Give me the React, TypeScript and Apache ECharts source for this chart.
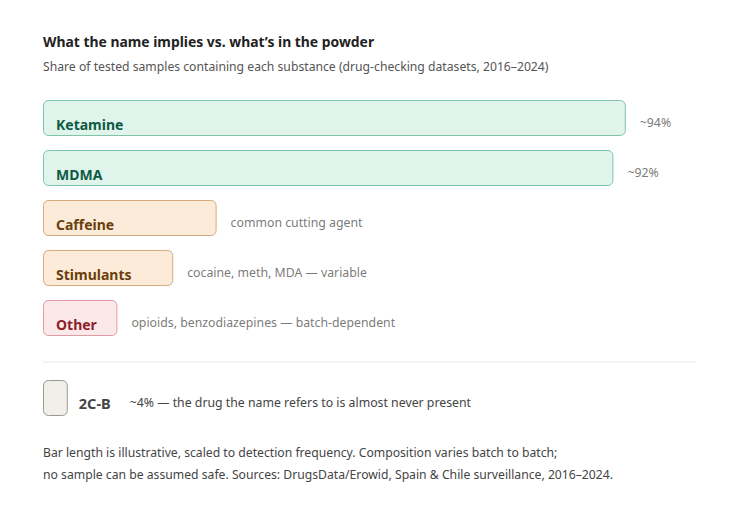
import React, { useEffect, useRef } from 'react';
import * as echarts from 'echarts';

// Substances found in samples sold under a given name
const categories = ['Ketamine', 'MDMA', 'Caffeine', 'Stimulants', 'Other'];
const shares = [94, 92, 28, 21, 12];
const notes = [
	'~94%',
	'~92%',
	'common cutting agent',
	'cocaine, meth, MDA — variable',
	'opioids, benzodiazepines — batch-dependent'
];

// The drug the name actually refers to
const absentName = '2C-B';
const absentShare = 4;
const absentNote = '~4% — the drug the name refers to is almost never present';

const titleText = 'What the name implies vs. what\u2019s in the powder';
const subtitleText = 'Share of tested samples containing each substance (drug-checking datasets, 2016–2024)';
const footerLines = [
	'Bar length is illustrative, scaled to detection frequency. Composition varies batch to batch;',
	'no sample can be assumed safe. Sources: DrugsData/Erowid, Spain & Chile surveillance, 2016–2024.'
];

// Colours per row: fill, border, label
const fills = ['#e0f4ec', '#e0f4ec', '#fbebd8', '#fbebd8', '#fbe9ea'];
const borders = ['#80c4a8', '#80c4a8', '#d5ab7b', '#d5ab7b', '#e09aa4'];
const labelColors = ['#0f5a43', '#0f5a43', '#6b3e0e', '#6b3e0e', '#8e1f2c'];

const FONT = '"Noto Sans", "Open Sans", sans-serif';

const App: React.FC = () => {
	const chartRef = useRef<HTMLDivElement>(null);

	useEffect(() => {
		if (!chartRef.current) return;
		const chart = echarts.init(chartRef.current, undefined, { renderer: 'svg' });

		const option: echarts.EChartsOption = {
			animation: false,
			backgroundColor: '#ffffff',
			textStyle: { fontFamily: FONT },
			title: [
				{
					text: titleText,
					subtext: subtitleText,
					left: 43,
					top: 34,
					padding: 0,
					itemGap: 12,
					textStyle: { fontFamily: FONT, fontSize: 13.9, fontWeight: 'bold', color: '#222222' },
					subtextStyle: { fontFamily: FONT, fontSize: 12.2, color: '#555555' }
				},
				{
					text: footerLines.join('\n'),
					left: 43,
					top: 441,
					padding: 0,
					textStyle: {
						fontFamily: FONT,
						fontSize: 12.2,
						fontWeight: 'normal',
						color: '#444444',
						lineHeight: 22
					}
				}
			],
			grid: [
				{ left: 43, width: 620, top: 93, height: 250 },
				{ left: 43, width: 620, top: 373, height: 50 }
			],
			xAxis: [
				{ type: 'value', gridIndex: 0, min: 0, max: 100, show: false },
				{ type: 'value', gridIndex: 1, min: 0, max: 100, show: false }
			],
			yAxis: [
				{ type: 'category', gridIndex: 0, data: categories, inverse: true, show: false },
				{ type: 'category', gridIndex: 1, data: [absentName], show: false }
			],
			graphic: [
				{
					type: 'line',
					shape: { x1: 43, y1: 362, x2: 696, y2: 362 },
					style: { stroke: '#e8e8e8', lineWidth: 1 },
					silent: true
				}
			],
			series: [
				{
					type: 'bar',
					xAxisIndex: 0,
					yAxisIndex: 0,
					barWidth: 36,
					silent: true,
					data: shares.map((v, i) => ({
						value: v,
						itemStyle: {
							color: fills[i],
							borderColor: borders[i],
							borderWidth: 1,
							borderRadius: 5
						},
						label: { color: labelColors[i] }
					})),
					label: {
						show: true,
						position: 'insideLeft',
						distance: 13,
						offset: [0, 6],
						formatter: (p: any) => categories[p.dataIndex],
						fontFamily: FONT,
						fontSize: 14,
						fontWeight: 'bold'
					}
				},
				{
					type: 'scatter',
					xAxisIndex: 0,
					yAxisIndex: 0,
					symbolSize: 0,
					silent: true,
					data: shares.map((v, i) => [v, i]),
					label: {
						show: true,
						position: 'right',
						distance: 14,
						offset: [0, 4],
						formatter: (p: any) => notes[p.dataIndex],
						fontFamily: FONT,
						fontSize: 12.3,
						color: '#555555'
					}
				},
				{
					type: 'bar',
					xAxisIndex: 1,
					yAxisIndex: 1,
					barWidth: 36,
					silent: true,
					data: [
						{
							value: absentShare,
							itemStyle: {
								color: '#f1efe9',
								borderColor: '#9c9892',
								borderWidth: 1,
								borderRadius: 5
							}
						}
					],
					label: {
						show: true,
						position: 'right',
						distance: 11,
						offset: [0, 5],
						formatter: () => `{n|${absentName}}{s|${absentNote}}`,
						rich: {
							n: { fontFamily: FONT, fontSize: 14.5, fontWeight: 'bold', color: '#444444' },
							s: {
								fontFamily: FONT,
								fontSize: 12.3,
								color: '#444444',
								padding: [0, 0, 2, 19]
							}
						}
					}
				}
			]
		};

		chart.setOption(option);
		return () => {
			chart.dispose();
		};
	}, []);

	return (
		<div
			ref={chartRef}
			style={{ position: 'fixed', left: 0, top: 0, width: '739px', height: '511px' }}
		/>
	);
};

export default App;
